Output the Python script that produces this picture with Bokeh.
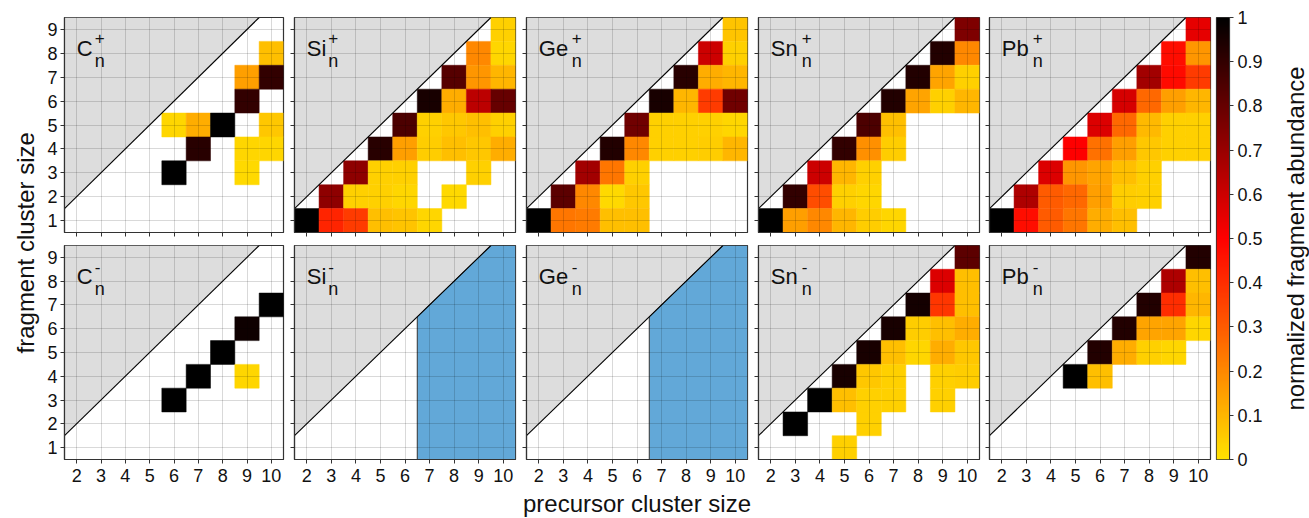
import numpy as np
from bokeh.plotting import figure
from bokeh.layouts import row, column
from bokeh.models import (LinearColorMapper, ColumnDataSource, FixedTicker, Range1d,
                          NumeralTickFormatter)
from bokeh.core.properties import value
from bokeh.embed import file_html
from bokeh.resources import INLINE

# ---------------- data ----------------
precursor_sizes = [2, 3, 4, 5, 6, 7, 8, 9, 10]
fragment_sizes = [9, 8, 7, 6, 5, 4, 3, 2, 1]      # row order of the matrices below
colorbar_ticks = [0, 0.1, 0.2, 0.3, 0.4, 0.5, 0.6, 0.7, 0.8, 0.9, 1]
elements = ["C", "Si", "Ge", "Sn", "Pb"]
charges = ["+", "-"]
x_title = "precursor cluster size"
y_title = "fragment cluster size"
cb_title = "normalized fragment abundance"

_ = None
# columns: precursor size 2..10 ; rows: fragment size 9..1
C_pos = [
    [_, _, _, _, _, _, _, _, _],
    [_, _, _, _, _, _, _, _, .08],
    [_, _, _, _, _, _, _, .15, .90],
    [_, _, _, _, _, _, _, .90, _],
    [_, _, _, _, .03, .12, 1.0, _, .06],
    [_, _, _, _, _, .92, _, .03, .03],
    [_, _, _, _, 1.0, _, _, .02, _],
    [_, _, _, _, _, _, _, _, _],
    [_, _, _, _, _, _, _, _, _],
]
Si_pos = [
    [_, _, _, _, _, _, _, _, .04],
    [_, _, _, _, _, _, _, .20, .03],
    [_, _, _, _, _, _, .83, .17, .10],
    [_, _, _, _, _, .95, .12, .63, .80],
    [_, _, _, _, .85, .04, .06, .08, .04],
    [_, _, _, .92, .15, .05, .08, .06, .12],
    [_, _, .72, .04, .04, _, _, .04, _],
    [_, .72, .04, .04, .03, _, .02, _, _],
    [1.0, .42, .37, .08, .07, .03, _, _, _],
]
Ge_pos = [
    [_, _, _, _, _, _, _, _, .07],
    [_, _, _, _, _, _, _, .60, .04],
    [_, _, _, _, _, _, .92, .12, .10],
    [_, _, _, _, _, .95, .10, .37, .78],
    [_, _, _, _, .78, .04, .04, .04, .03],
    [_, _, _, .93, .20, .04, .04, .05, .10],
    [_, _, .68, .24, .04, _, _, _, _],
    [_, .82, .20, .02, .06, _, _, _, _],
    [1.0, .24, .23, .08, .08, _, _, _, _],
]
Sn_pos = [
    [_, _, _, _, _, _, _, _, .75],
    [_, _, _, _, _, _, _, .93, .20],
    [_, _, _, _, _, _, .93, .14, .04],
    [_, _, _, _, _, .93, .14, .04, .10],
    [_, _, _, _, .85, .08, _, _, _],
    [_, _, _, .90, .18, .05, _, _, _],
    [_, _, .60, .10, .04, _, _, _, _],
    [_, .90, .33, .04, .03, _, _, _, _],
    [1.0, .15, .20, .10, .05, .03, _, _, _],
]
Pb_pos = [
    [_, _, _, _, _, _, _, _, .55],
    [_, _, _, _, _, _, _, .47, .17],
    [_, _, _, _, _, _, .68, .48, .37],
    [_, _, _, _, _, .58, .27, .15, .10],
    [_, _, _, _, .57, .27, .09, .04, .04],
    [_, _, _, .50, .25, .15, .06, .04, .04],
    [_, _, .57, .17, .14, .08, .04, _, _],
    [_, .66, .30, .27, .15, .05, .04, _, _],
    [1.0, .47, .30, .24, .12, .08, _, _, _],
]
C_neg = [
    [_, _, _, _, _, _, _, _, _],
    [_, _, _, _, _, _, _, _, _],
    [_, _, _, _, _, _, _, _, 1.0],
    [_, _, _, _, _, _, _, .97, _],
    [_, _, _, _, _, _, 1.0, _, _],
    [_, _, _, _, _, 1.0, _, .03, _],
    [_, _, _, _, 1.0, _, _, _, _],
    [_, _, _, _, _, _, _, _, _],
    [_, _, _, _, _, _, _, _, _],
]
Si_neg = [[_] * 9 for _r in range(9)]
Ge_neg = [[_] * 9 for _r in range(9)]
Sn_neg = [
    [_, _, _, _, _, _, _, _, .82],
    [_, _, _, _, _, _, _, .57, .08],
    [_, _, _, _, _, _, .96, .38, .08],
    [_, _, _, _, _, .95, .05, .08, .12],
    [_, _, _, _, .95, .08, .03, .12, .06],
    [_, _, _, .95, .06, .04, _, .04, .05],
    [_, _, 1.0, .08, .04, .04, _, .04, _],
    [_, 1.0, _, _, .04, _, _, _, _],
    [_, _, _, .04, _, _, _, _, _],
]
Pb_neg = [
    [_, _, _, _, _, _, _, _, .93],
    [_, _, _, _, _, _, _, .66, .08],
    [_, _, _, _, _, _, .93, .40, .10],
    [_, _, _, _, _, .93, .14, .14, .03],
    [_, _, _, _, .93, .12, .04, .03, _],
    [_, _, _, 1.0, .08, _, _, _, _],
    [_, _, _, _, _, _, _, _, _],
    [_, _, _, _, _, _, _, _, _],
    [_, _, _, _, _, _, _, _, _],
]
matrices = {
    ("C", "+"): C_pos, ("Si", "+"): Si_pos, ("Ge", "+"): Ge_pos, ("Sn", "+"): Sn_pos, ("Pb", "+"): Pb_pos,
    ("C", "-"): C_neg, ("Si", "-"): Si_neg, ("Ge", "-"): Ge_neg, ("Sn", "-"): Sn_neg, ("Pb", "-"): Pb_neg,
}
# smallest precursor size that is not accessible (blue region)
blocked_from = {("Si", "-"): 7, ("Ge", "-"): 7}

# ---------------- style ----------------
FONT = "Liberation Sans"
DARK = "#333333"
GRAY_FILL = "#dddddd"
BLUE_FILL = "#62a8d8"
sub_offset = {"C": 18, "Si": 21.5, "Ge": 33, "Sn": 31, "Pb": 31}
sup_yoff = {"+": -11, "-": -9}


def cmap(t):
    if t <= 0.5:
        return "#%02x%02x%02x" % (255, round(226 * (1 - t / 0.5)), 0)
    s = (t - 0.5) / 0.5
    return "#%02x%02x%02x" % (round(255 * (1 - s)), 0, 0)


palette = [cmap(i / 255) for i in range(256)]
mapper = LinearColorMapper(palette=palette, low=0, high=1)

x_lo, x_hi = min(precursor_sizes) - 0.5, max(precursor_sizes) + 0.5
y_lo, y_hi = min(fragment_sizes) - 0.5, max(fragment_sizes) + 0.5
y_ticks = sorted(fragment_sizes)


def hide_labels(ax):
    ax.major_label_text_font_size = "0px"
    ax.major_label_text_color = None
    ax.major_label_standoff = 0


def make_panel(elem, charge, ci, ri):
    left = 19 if ci == 0 else (5 if ci == 4 else 6)
    right = 3 if ci == 4 else 5
    fw = 220 if ci == 0 else 221
    top = 17 if ri == 0 else 7
    bottom = 6 if ri == 0 else 28
    fh = 215 if ri == 0 else 214
    p = figure(width=left + fw + right, height=top + fh + bottom,
               x_range=Range1d(x_lo, x_hi), y_range=Range1d(y_lo, y_hi),
               output_backend="svg", toolbar_location=None,
               min_border_left=left, min_border_right=right,
               min_border_top=top, min_border_bottom=bottom,
               outline_line_color=DARK, outline_line_width=1.2,
               background_fill_color="white", border_fill_color="white")
    # inaccessible region (fragment >= precursor)
    p.patch([x_lo, y_hi, x_lo], [x_lo, y_hi, y_hi], fill_color=GRAY_FILL, line_color=None)
    key = (elem, charge)
    if key in blocked_from:
        b = blocked_from[key] - 0.5
        p.patch([b, x_hi, x_hi, y_hi, b], [y_lo, y_lo, y_hi, y_hi, b],
                fill_color=BLUE_FILL, line_color=DARK, line_width=1)
    mat = matrices[key]
    xs, ys, vs = [], [], []
    for r, fy in enumerate(fragment_sizes):
        for c, px in enumerate(precursor_sizes):
            v = mat[r][c]
            if v is not None:
                xs.append(px); ys.append(fy); vs.append(v)
    if xs:
        src = ColumnDataSource(dict(x=xs, y=ys, v=vs))
        p.rect('x', 'y', width=1, height=1, source=src,
               fill_color={'field': 'v', 'transform': mapper},
               line_color={'field': 'v', 'transform': mapper}, line_width=0.5)
    p.line([x_lo, y_hi], [x_lo, y_hi], line_color="black", line_width=1.1)

    lx = min(precursor_sizes)
    ly = max(fragment_sizes) - 0.8
    p.text(x=[lx], y=[ly], text=[elem], text_font=value(FONT), text_font_size="22px",
           text_baseline="alphabetic", text_align="left", text_color="#111111")
    p.text(x=[lx], y=[ly], text=["n"], x_offset=sub_offset[elem], y_offset=12.5,
           text_font=value(FONT), text_font_size="18px",
           text_baseline="alphabetic", text_align="left", text_color="#111111")
    p.text(x=[lx], y=[ly], text=[charge], x_offset=sub_offset[elem], y_offset=sup_yoff[charge],
           text_font=value(FONT), text_font_size="17px",
           text_baseline="alphabetic", text_align="left", text_color="#111111")

    p.xaxis.ticker = FixedTicker(ticks=precursor_sizes)
    p.yaxis.ticker = FixedTicker(ticks=y_ticks)
    p.xgrid.ticker = FixedTicker(ticks=precursor_sizes)
    p.ygrid.ticker = FixedTicker(ticks=y_ticks)
    for g in (p.xgrid, p.ygrid):
        g.grid_line_color = "black"
        g.grid_line_alpha = 0.15
        g.grid_line_width = 1
        g.level = "overlay"
    for ax in (p.xaxis, p.yaxis):
        ax.axis_line_color = DARK
        ax.axis_line_width = 1.2
        ax.major_tick_line_color = DARK
        ax.major_tick_in = 0
        ax.major_tick_out = 4
        ax.minor_tick_line_color = None
        ax.major_label_text_font = FONT
        ax.major_label_text_font_size = "18px"
        ax.major_label_text_color = "#111111"
    p.xaxis.major_label_standoff = 5
    p.yaxis.major_label_standoff = 3
    if ri == 0:
        hide_labels(p.xaxis[0])
    if ci != 0:
        hide_labels(p.yaxis[0])
    return p


rows = []
for ri, ch in enumerate(charges):
    rows.append(row(*[make_panel(el, ch, ci, ri) for ci, el in enumerate(elements)]))


def title_fig(w, h):
    f = figure(width=w, height=h, x_range=Range1d(0, w), y_range=Range1d(0, h),
               output_backend="svg", toolbar_location=None,
               min_border=0, outline_line_color=None,
               x_axis_location=None, y_axis_location=None)
    f.xgrid.visible = False
    f.ygrid.visible = False
    return f


# y title
yt = title_fig(44, 518)
yt.text(x=[25], y=[518 - 264], text=[y_title], angle=np.pi / 2, text_font=value(FONT),
        text_font_size="24px", text_align="center", text_baseline="middle", text_color="#111111")
# x title
xt = title_fig(1169, 31)
xt.text(x=[592.5], y=[31 - 16], text=[x_title], text_font=value(FONT),
        text_font_size="24px", text_align="center", text_baseline="middle", text_color="#111111")

# colour bar
cb = figure(width=52, height=518, x_range=Range1d(0, 1), y_range=Range1d(0, 1),
            output_backend="svg", toolbar_location=None,
            min_border_left=3, min_border_right=33, min_border_top=17, min_border_bottom=59,
            outline_line_color=DARK, outline_line_width=1.2,
            x_axis_location=None, y_axis_location="right")
cb.image(image=[np.linspace(0, 1, 256).reshape(256, 1)], x=0, y=0, dw=1, dh=1, color_mapper=mapper)
cb.xgrid.visible = False
cb.ygrid.visible = False
cb.yaxis.ticker = FixedTicker(ticks=colorbar_ticks)
cb.yaxis.formatter = NumeralTickFormatter(format="0.[0]")
cb.yaxis.major_tick_in = 0
cb.yaxis.major_tick_out = 4
cb.yaxis.minor_tick_line_color = None
cb.yaxis.axis_line_color = DARK
cb.yaxis.major_tick_line_color = DARK
cb.yaxis.major_label_text_font = FONT
cb.yaxis.major_label_text_font_size = "18px"
cb.yaxis.major_label_text_color = "#111111"
cb.yaxis.major_label_standoff = 4

ct = title_fig(44, 518)
ct.text(x=[30], y=[518 - 259], text=[cb_title], angle=np.pi / 2, text_font=value(FONT),
        text_font_size="24px", text_align="center", text_baseline="middle", text_color="#111111")

layout = row(yt, column(rows[0], rows[1], xt), cb, ct)

open("out.html", "w").write(file_html(layout, INLINE))
